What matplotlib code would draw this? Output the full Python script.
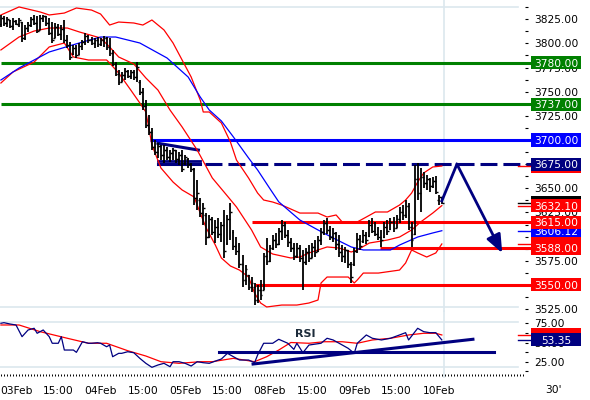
import matplotlib
matplotlib.use('Agg')
import matplotlib.pyplot as plt
import matplotlib.transforms as mtransforms
from matplotlib.patches import Rectangle
from matplotlib.ticker import MultipleLocator, FuncFormatter
import numpy as np

# 30' bars, 03Feb .. 10Feb (28 bars a day)
bar_open = [3820, 3826, 3821, 3824, 3818, 3823, 3820, 3822, 3806, 3816,
            3819, 3825, 3821, 3814, 3826, 3828, 3821, 3811, 3806, 3817,
            3810, 3815, 3803, 3798, 3789, 3795, 3788, 3797, 3801, 3808,
            3803, 3800, 3804, 3799, 3804, 3806, 3796, 3790, 3779, 3768,
            3760, 3767, 3771, 3766, 3770, 3765, 3760, 3750, 3735, 3716,
            3708, 3693, 3688, 3694, 3684, 3690, 3682, 3687, 3690, 3680,
            3685, 3676, 3680, 3675, 3670, 3640, 3638, 3624, 3622, 3600,
            3618, 3605, 3610, 3603, 3612, 3593, 3618, 3605, 3590, 3585,
            3572, 3555, 3560, 3548, 3548, 3534, 3545, 3545, 3580, 3575,
            3588, 3597, 3592, 3606, 3612, 3602, 3594, 3588, 3580, 3588,
            3578, 3574, 3584, 3578, 3589, 3585, 3597, 3605, 3614, 3607,
            3600, 3604, 3592, 3584, 3580, 3586, 3572, 3572, 3585, 3598,
            3595, 3602, 3601, 3612, 3606, 3603, 3600, 3600, 3610, 3608,
            3615, 3609, 3618, 3626, 3622, 3632, 3610, 3603, 3660, 3645,
            3662, 3655, 3660, 3652, 3658, 3638, 3641]
bar_high = [3829.4, 3828.3, 3827.3, 3824.2, 3826.3, 3824.2, 3826.3, 3822.1, 3819.0, 3822.1,
            3827.3, 3829.4, 3828.3, 3829.4, 3829.4, 3828.3, 3826.3, 3822.1, 3821.1, 3820.1,
            3819.0, 3824.2, 3808.7, 3801.4, 3798.3, 3798.3, 3800.4, 3803.5, 3810.7, 3808.7,
            3806.6, 3805.6, 3806.6, 3805.6, 3807.6, 3806.6, 3805.6, 3793.2, 3780.7, 3772.4,
            3770.4, 3774.5, 3772.4, 3772.4, 3772.4, 3780.7, 3762.1, 3753.8, 3741.4, 3725.9,
            3712.4, 3700.0, 3696.9, 3694.8, 3694.8, 3692.7, 3689.6, 3691.7, 3689.6, 3687.6,
            3689.6, 3684.5, 3681.4, 3676.2, 3671.0, 3658.6, 3640.0, 3634.8, 3624.4, 3622.4,
            3620.3, 3617.2, 3619.3, 3615.2, 3627.5, 3622.4, 3634.8, 3606.9, 3599.6, 3593.4,
            3581.0, 3570.6, 3560.3, 3558.2, 3552.0, 3549.9, 3555.1, 3583.1, 3598.6, 3591.3,
            3601.7, 3603.8, 3608.9, 3617.2, 3615.2, 3606.9, 3598.6, 3593.4, 3593.4, 3591.3,
            3586.2, 3588.2, 3591.3, 3593.4, 3596.5, 3600.6, 3608.9, 3617.2, 3619.3, 3611.0,
            3608.9, 3604.8, 3601.7, 3591.3, 3589.3, 3586.2, 3573.7, 3588.2, 3603.8, 3601.7,
            3606.9, 3604.8, 3617.2, 3619.3, 3615.2, 3610.0, 3606.9, 3615.2, 3617.2, 3619.3,
            3620.3, 3622.4, 3630.7, 3632.7, 3637.9, 3634.8, 3615.2, 3674.1, 3676.2, 3671.0,
            3666.9, 3663.8, 3660.7, 3661.7, 3662.7, 3643.1, 3641.0]
bar_low = [3817.0, 3818.0, 3817.0, 3815.9, 3813.9, 3819.0, 3817.0, 3801.4, 3803.5, 3811.8,
           3817.0, 3819.0, 3810.7, 3813.9, 3822.1, 3818.0, 3808.7, 3800.4, 3805.6, 3807.6,
           3803.5, 3800.4, 3795.2, 3782.8, 3788.0, 3784.9, 3788.0, 3793.2, 3798.3, 3800.4,
           3798.3, 3795.2, 3796.3, 3797.3, 3796.3, 3793.2, 3787.0, 3776.6, 3766.2, 3756.9,
           3760.0, 3762.1, 3764.2, 3763.1, 3762.1, 3760.0, 3746.6, 3731.0, 3712.4, 3705.2,
           3689.6, 3684.5, 3681.4, 3679.3, 3676.2, 3679.3, 3677.3, 3679.3, 3676.2, 3674.1,
           3666.9, 3674.1, 3671.0, 3666.9, 3632.7, 3627.5, 3620.3, 3612.0, 3591.3, 3598.6,
           3601.7, 3593.4, 3598.6, 3594.4, 3577.9, 3591.3, 3596.5, 3586.2, 3581.0, 3567.5,
           3547.9, 3549.9, 3544.7, 3542.7, 3529.2, 3531.3, 3534.4, 3544.7, 3570.6, 3573.7,
           3586.2, 3588.2, 3591.3, 3596.5, 3598.6, 3589.3, 3584.1, 3575.8, 3577.9, 3573.7,
           3544.7, 3570.6, 3573.7, 3577.9, 3578.9, 3584.1, 3591.3, 3601.7, 3602.7, 3596.5,
           3594.4, 3586.2, 3578.9, 3573.7, 3572.7, 3567.5, 3552.0, 3569.6, 3583.1, 3586.2,
           3593.4, 3592.4, 3599.6, 3603.8, 3600.6, 3596.5, 3589.3, 3598.6, 3601.7, 3606.9,
           3604.8, 3608.9, 3614.1, 3617.2, 3619.3, 3606.9, 3589.3, 3601.7, 3637.9, 3625.5,
           3650.3, 3648.3, 3646.2, 3650.3, 3644.1, 3632.7, 3633.8]
bar_close = [3826, 3821, 3825, 3818, 3823, 3820, 3824, 3806, 3816, 3819,
             3825, 3821, 3813, 3826, 3828, 3821, 3811, 3804, 3817, 3810,
             3815, 3803, 3798, 3786, 3795, 3788, 3797, 3801, 3808, 3803,
             3800, 3804, 3799, 3804, 3806, 3796, 3790, 3779, 3768, 3760,
             3767, 3771, 3766, 3770, 3765, 3776, 3750, 3735, 3716, 3708,
             3693, 3688, 3694, 3684, 3690, 3682, 3687, 3690, 3680, 3685,
             3670, 3682, 3675, 3670, 3640, 3645, 3624, 3630, 3600, 3618,
             3605, 3610, 3603, 3612, 3585, 3618, 3625, 3590, 3585, 3572,
             3555, 3566, 3548, 3552, 3534, 3545, 3540, 3580, 3575, 3588,
             3597, 3592, 3606, 3612, 3602, 3594, 3588, 3580, 3588, 3578,
             3574, 3584, 3578, 3589, 3584, 3597, 3605, 3614, 3607, 3600,
             3604, 3592, 3584, 3580, 3586, 3572, 3558, 3585, 3598, 3590,
             3602, 3596, 3612, 3606, 3603, 3600, 3596, 3610, 3606, 3615,
             3609, 3618, 3626, 3622, 3632, 3610, 3596, 3660, 3645, 3662,
             3655, 3660, 3652, 3658, 3646, 3641, 3635]

upper_idx = [0, 6, 13, 16, 21, 25, 30, 33, 36, 39, 44, 47, 50, 54, 57, 63, 66, 67, 69, 73,
             76, 78, 82, 85, 87, 90, 93, 99, 105, 108, 111, 113, 118, 121, 124, 128, 132, 134,
             136, 138, 140, 143, 146]
upper_val = [3829.4, 3837.7, 3832.5, 3829.4, 3831.4, 3836.6, 3834.5, 3830.4, 3819.0, 3822.1,
             3821.1, 3819.0, 3824.2, 3813.9, 3800.4, 3765.2, 3741.4, 3729.0, 3729.0, 3717.6,
             3697.9, 3679.3, 3660.7, 3645.1, 3637.9, 3635.8, 3632.7, 3624.4, 3624.4, 3620.3,
             3622.4, 3615.2, 3615.2, 3620.3, 3625.5, 3625.5, 3632.7, 3637.9, 3645.1, 3656.5,
             3665.9, 3672.1, 3673.1]
middle_idx = [0, 6, 11, 16, 22, 26, 33, 36, 39, 44, 48, 52, 56, 60, 65, 70, 75, 78, 83, 86,
              90, 96, 99, 102, 108, 112, 116, 118, 122, 128, 132, 136, 139, 143, 146]
middle_val = [3793.2, 3806.6, 3812.8, 3815.9, 3815.9, 3811.8, 3805.6, 3796.3, 3785.9, 3778.7,
              3764.2, 3751.7, 3731.0, 3713.5, 3689.6, 3660.7, 3642.0, 3630.7, 3606.9, 3589.3,
              3582.0, 3577.9, 3578.9, 3583.1, 3589.3, 3588.2, 3584.1, 3586.2, 3593.4, 3596.5,
              3599.6, 3606.9, 3615.2, 3624.4, 3632.1]
lower_idx = [0, 4, 11, 16, 21, 24, 29, 35, 36, 39, 43, 46, 48, 49, 50, 53, 57, 60, 64, 66,
             68, 71, 73, 76, 79, 82, 84, 86, 88, 93, 98, 102, 105, 106, 108, 115, 117, 118,
             120, 125, 132, 134, 136, 138, 141, 144, 146]
lower_val = [3759.0, 3770.4, 3780.7, 3796.3, 3800.4, 3785.9, 3782.8, 3782.8, 3779.7, 3769.3,
             3751.7, 3738.3, 3729.0, 3712.4, 3694.8, 3671.0, 3656.5, 3648.3, 3641.0, 3624.4,
             3608.9, 3591.3, 3577.9, 3569.6, 3565.4, 3558.2, 3541.6, 3531.3, 3527.2, 3529.2,
             3529.2, 3531.3, 3534.4, 3552.0, 3558.2, 3558.2, 3552.0, 3555.1, 3562.3, 3562.3,
             3565.4, 3572.7, 3586.2, 3583.1, 3578.9, 3583.1, 3592.4]
ma_idx = [0, 6, 16, 27, 33, 38, 46, 55, 62, 66, 69, 73, 77, 82, 85, 89, 92, 99, 105, 110,
          116, 120, 129, 132, 138, 143, 146]
ma_val = [3762.1, 3774.5, 3791.1, 3801.4, 3806.6, 3806.6, 3800.4, 3784.9, 3765.2, 3744.5,
          3731.0, 3719.7, 3703.1, 3681.4, 3669.0, 3650.0, 3636.0, 3617.2, 3606.9, 3598.6,
          3589.3, 3586.2, 3586.2, 3591.3, 3599.6, 3603.8, 3606.12]

# RSI and its average
rsi_idx = [0, 1, 3, 5, 7, 9, 11, 12, 14, 16, 17, 19, 20, 21, 24, 25, 27, 29, 30, 32,
           33, 35, 36, 37, 39, 40, 42, 44, 46, 48, 50, 52, 54, 56, 57, 59, 61, 63, 65, 67,
           69, 72, 73, 75, 77, 79, 82, 84, 85, 87, 90, 92, 95, 97, 98, 100, 102, 106, 108, 110,
           112, 115, 117, 118, 121, 123, 126, 129, 132, 134, 135, 138, 140, 142, 144, 146]
rsi_val = [75.0, 75.8, 74.1, 72.8, 57.6, 66.3, 68.5, 62.0, 66.3, 57.6,
           49.0, 49.0, 57.6, 40.2, 40.2, 37.2, 51.0, 49.0, 49.0, 49.7,
           49.0, 44.5, 46.7, 31.5, 35.9, 35.9, 38.0, 36.7, 29.4, 22.9,
           17.7, 20.7, 22.9, 18.5, 25.0, 25.0, 22.9, 19.4, 25.0, 23.7,
           22.9, 27.2, 28.5, 35.9, 31.5, 27.2, 27.2, 23.7, 33.7, 49.0,
           49.0, 54.2, 49.0, 41.1, 49.0, 36.7, 46.7, 49.0, 55.5, 53.3,
           49.0, 42.4, 35.9, 49.0, 59.8, 55.5, 53.3, 55.5, 59.8, 62.8,
           53.3, 68.5, 64.1, 62.8, 62.8, 53.35]
rsima_idx = [0, 6, 13, 22, 29, 35, 42, 48, 53, 59, 66, 70, 77, 84, 88, 92, 96, 102, 107,
             113, 118, 123, 129, 135, 140, 144, 146]
rsima_val = [72.8, 72.8, 64.1, 55.5, 49.0, 49.0, 39.3, 32.4, 25.0, 22.9, 25.0, 25.0, 29.4,
             25.0, 31.5, 40.2, 50.0, 49.0, 51.0, 51.0, 49.0, 53.3, 55.5, 59.8, 62.0, 62.0, 59.8]

# drawn support / resistance levels (value, first bar)
level_val = [3780, 3737, 3700, 3615, 3588, 3550]
level_from = [0, 0, 49.5, 83, 125.5, 84]
level_col = ['#008000', '#008000', '#0000ff', '#ff0000', '#ff0000', '#ff0000']
dash_level = 3675
dash_from, dash_solid_to = 52, 66
wedge_x, wedge_y = [52, 65.4], [3696.6, 3689.6]
arrow_x, arrow_y = [146, 151, 166], [3637, 3675, 3583]
rsi_flat_x, rsi_flat_y = [72.2, 163.3], [38.0, 38.0]
rsi_rise_x, rsi_rise_y = [83.5, 156.3], [22.0, 54.2]

tick_idx = [5, 19, 33, 47, 61, 75, 89, 103, 117, 131, 145]
tick_lab = ['03Feb', '15:00', '04Feb', '15:00', '05Feb', '15:00',
            '08Feb', '15:00', '09Feb', '15:00', '10Feb']

NAVY, RED, LIGHT = '#000080', '#ff0000', '#dce7ee'
FS = 7.7
plt.rcParams['lines.scale_dashes'] = False

W, H = 590, 400
PX = 3.02                      # pixels per bar
fig = plt.figure(figsize=(W / 100, H / 100), dpi=100)
ax = fig.add_axes([0, 1 - 312 / H, 525 / W, 312 / H])
rx = fig.add_axes([0, 1 - 374 / H, 525 / W, 60 / H])
x0 = -0.3
x1 = x0 + 525 / PX
xr = x0 + 531 / PX             # where level lines meet the tags
xs = x0 + 518 / PX
for a in (ax, rx):
    a.set_xlim(x0, x1)
    for s in a.spines.values():
        s.set_visible(False)
ax.set_ylim(3522.0, 3844.9)
rx.set_ylim(9.0, 87.1)

# panel frame lines and current bar line
n = len(bar_close)
for a, lims in ((ax, (3837.7, 3527.2)), (rx, (76.3, 17.7))):
    for v in lims:
        a.axhline(v, xmax=518 / 525, color=LIGHT, lw=1.2, zorder=0)
ax.axvline(n - 0.3, color=LIGHT, lw=1.2, zorder=0)
rx.axvline(n - 0.3, ymin=-0.05, ymax=1.05, color=LIGHT, lw=1.2, zorder=0, clip_on=False)

# levels
for v, s, c in zip(level_val, level_from, level_col):
    ax.plot([s, xr], [v, v], color=c, lw=2.2, clip_on=False, solid_capstyle='butt')
ax.plot([dash_from, dash_solid_to], [dash_level, dash_level], color=NAVY, lw=2.2)
ax.plot([dash_from, dash_solid_to], [dash_level + 3, dash_level + 3], color=NAVY, lw=2.0)
ax.plot([dash_solid_to + 1.5, xr], [dash_level, dash_level], color=NAVY, lw=2.2,
        dashes=(12.2, 4.3), clip_on=False, solid_capstyle='butt')
ax.plot(wedge_x, wedge_y, color=NAVY, lw=2.2)

# indicators
ax.plot(upper_idx, upper_val, color=RED, lw=0.9)
ax.plot(middle_idx, middle_val, color=RED, lw=0.9)
ax.plot(lower_idx, lower_val, color=RED, lw=0.9)
ax.plot(ma_idx, ma_val, color='#0000ff', lw=0.9)

# OHLC bars
idx = np.arange(n)
ax.vlines(idx, bar_low, bar_high, color='black', lw=1.3)
ax.hlines(bar_open, idx - 0.6, idx, color='black', lw=1.0)
ax.hlines(bar_close, idx, idx + 0.6, color='black', lw=1.0)

# projection arrow
ax.plot(arrow_x[:2], arrow_y[:2], color=NAVY, lw=2.0)
ax.annotate('', xy=(arrow_x[2], arrow_y[2]), xytext=(arrow_x[1], arrow_y[1]),
            arrowprops=dict(arrowstyle='-|>,head_length=1.1,head_width=0.45',
                            color=NAVY, lw=2.0, shrinkA=0, shrinkB=0),
            annotation_clip=False)

# RSI panel
rx.plot(rsima_idx, rsima_val, color=RED, lw=0.9)
rx.plot(rsi_idx, rsi_val, color=NAVY, lw=0.9)
rx.plot(rsi_flat_x, rsi_flat_y, color=NAVY, lw=2.2)
rx.plot(rsi_rise_x, rsi_rise_y, color=NAVY, lw=2.2)
rx.text(100.7, 61, 'RSI', fontsize=8, fontweight='bold', color='#1c2b3a',
        ha='center', va='center')

# axes ticks
fmt = FuncFormatter(lambda v, p: f'{v:.2f}')
ax.yaxis.tick_right()
ax.set_yticks(np.arange(3525, 3826, 25))
ax.set_yticks(np.arange(3537.5, 3840, 25), minor=True)
ax.yaxis.set_major_formatter(fmt)
ax.tick_params(axis='x', which='both', bottom=False, labelbottom=False)
rx.yaxis.tick_right()
rx.set_yticks([25, 50, 75])
rx.set_yticks([12.5, 37.5, 62.5], minor=True)
rx.yaxis.set_major_formatter(fmt)
for a in (ax, rx):
    a.tick_params(axis='y', which='both', direction='out', length=2.2, width=0.8,
                  pad=4.3, labelsize=FS)
rx.set_xticks(tick_idx)
rx.set_xticklabels(tick_lab)
rx.xaxis.set_minor_locator(MultipleLocator(1))
rx.tick_params(axis='x', which='both', direction='out', length=1.6, width=0.7,
               pad=7.0, labelsize=FS)
fig.text(553 / W, 1 - 390 / H, "30'", ha='center', va='center', fontsize=FS)


def tag(a, value, fc, h, text=None, z=5):
    # value box on the price scale; text=False gives a bare box (hidden under another)
    tr = mtransforms.blended_transform_factory(a.transAxes, a.transData)
    a.add_patch(Rectangle((531 / 525, value - h / 2), 50 / 525, h, transform=tr,
                          fc=fc, ec='none', clip_on=False, zorder=z))
    if text is False:
        return
    a.text(556 / 525, value, text or f'{value:.2f}', transform=tr, color='white',
           fontsize=FS, ha='center', va='center_baseline', clip_on=False, zorder=z + 0.1)


def stub(a, value, color):
    a.plot([xs, xr], [value, value], color=color, lw=1.0, clip_on=False)


hp = 13.5
hr = 16.9
stub(ax, bar_close[-1], 'black')
stub(ax, middle_val[-1], RED)
stub(ax, upper_val[-1], RED)
stub(ax, ma_val[-1], '#0000ff')
stub(ax, lower_val[-1], RED)
tag(ax, bar_close[-1], 'black', hp, text=False, z=5)
tag(ax, middle_val[-1], RED, hp, z=6)
tag(ax, ma_val[-1], '#0000ff', hp, z=5)
tag(ax, lower_val[-1], RED, hp, text=False, z=5)
tag(ax, upper_val[-1], RED, hp, text=False, z=5)
for v, c in zip(level_val, level_col):
    tag(ax, v, c, hp, f'{v:.2f}', z=7)
tag(ax, dash_level, NAVY, hp, f'{dash_level:.2f}', z=7)
stub(rx, rsima_val[-1], RED)
stub(rx, rsi_val[-1], NAVY)
tag(rx, rsima_val[-1], RED, hr, text=False, z=5)
tag(rx, rsi_val[-1], NAVY, hr, z=6)

fig.savefig('out.png', dpi=100, facecolor='white')
